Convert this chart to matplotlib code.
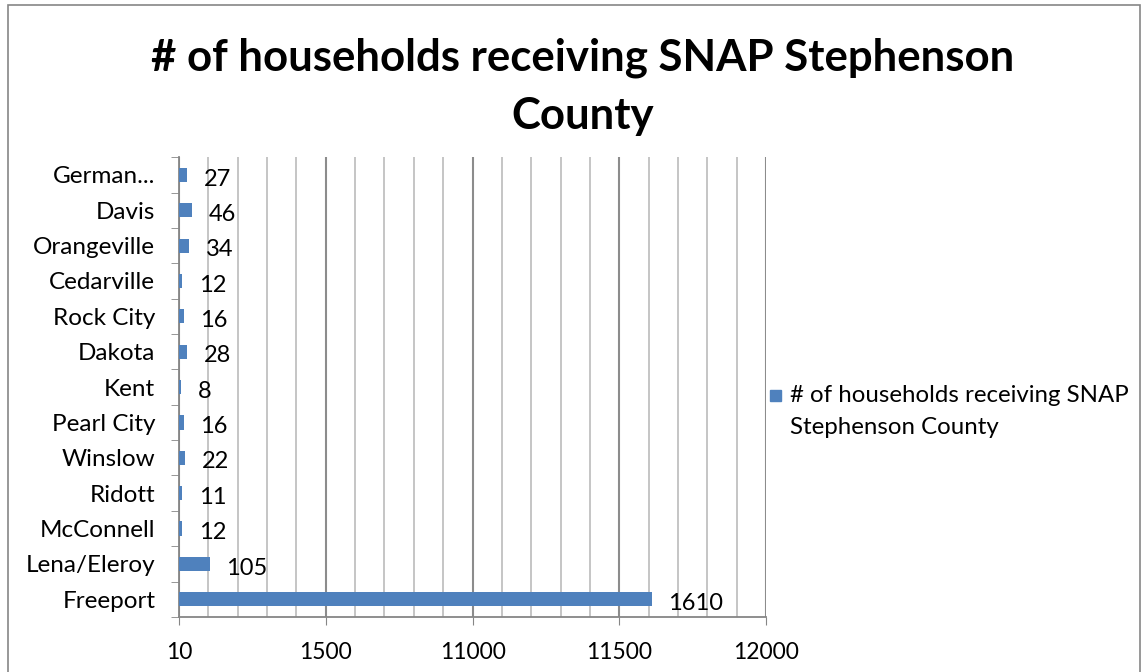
import matplotlib.pyplot as plt
from matplotlib.patches import Rectangle

# data, bottom to top as drawn
towns = ['Freeport', 'Lena/Eleroy', 'McConnell', 'Ridott', 'Winslow', 'Pearl City',
         'Kent', 'Dakota', 'Rock City', 'Cedarville', 'Orangeville', 'Davis', 'German...']
households = [1610, 105, 12, 11, 22, 16, 8, 28, 16, 12, 34, 46, 27]
xtick_vals = [0, 500, 1000, 1500, 2000]
xtick_text = ['10', '1500', '11000', '11500', '12000']
series_name = '# of households receiving SNAP\nStephenson County'

plt.rcParams['font.family'] = ['Lato', 'DejaVu Sans']
bar_col = '#4f81bd'

fig = plt.figure(figsize=(11.47, 6.72), dpi=100)
ax = fig.add_axes([0.156, 0.082, 0.512, 0.684])

ypos = range(len(towns))
ax.barh(ypos, households, height=0.4, color=bar_col, zorder=3)
for y, v in zip(ypos, households):
    ax.annotate(str(v), (v, y), xytext=(12, -3), textcoords='offset points',
                ha='left', va='center', fontsize=17, zorder=4)

ax.set_xlim(0, 2000)
ax.set_ylim(-0.5, len(towns) - 0.5)
ax.set_yticks(list(ypos))
ax.set_yticklabels(towns, fontsize=17.5)
ax.set_yticks([i + 0.5 for i in range(-1, len(towns))], minor=True)
ax.tick_params(axis='y', which='major', length=0, pad=17)
ax.tick_params(axis='y', which='minor', length=6, direction='out', color='#868686')

ax.set_xticks(xtick_vals)
ax.set_xticklabels(xtick_text, fontsize=16.5)
ax.set_xticks(range(0, 2001, 100), minor=True)
ax.tick_params(axis='x', which='major', length=6, direction='out', color='#868686', pad=12)
ax.tick_params(axis='x', which='minor', length=0)

ax.grid(axis='x', which='minor', color='#c0c0c0', linewidth=1.3, zorder=0)
ax.grid(axis='x', which='major', color='#8c8c8c', linewidth=1.5, zorder=1)
ax.grid(axis='y', visible=False)
for s in ['top', 'right']:
    ax.spines[s].set_visible(False)
ax.spines['left'].set_color('#868686')
ax.spines['bottom'].set_color('#868686')
ax.spines['left'].set_linewidth(1.3)
ax.spines['bottom'].set_linewidth(1.3)

fig.text(0.508, 0.914, '# of households receiving SNAP Stephenson', ha='center', va='center',
         fontsize=31.5, fontweight='bold')
fig.text(0.508, 0.828, 'County', ha='center', va='center', fontsize=31.5, fontweight='bold')

fig.patches.append(Rectangle((0.007, -0.05), 0.987, 1.043, transform=fig.transFigure,
                             fill=False, edgecolor='#868686', linewidth=1.2))

# legend drawn by hand so the key lines up with the first text line
fig.patches.append(Rectangle((0.6713, 0.4033), 0.0096, 0.0164, transform=fig.transFigure,
                             color=bar_col))
fig.text(0.6885, 0.3876, series_name, ha='left', va='center', fontsize=17.3,
         linespacing=1.7)

fig.savefig('out.png', dpi=100)
